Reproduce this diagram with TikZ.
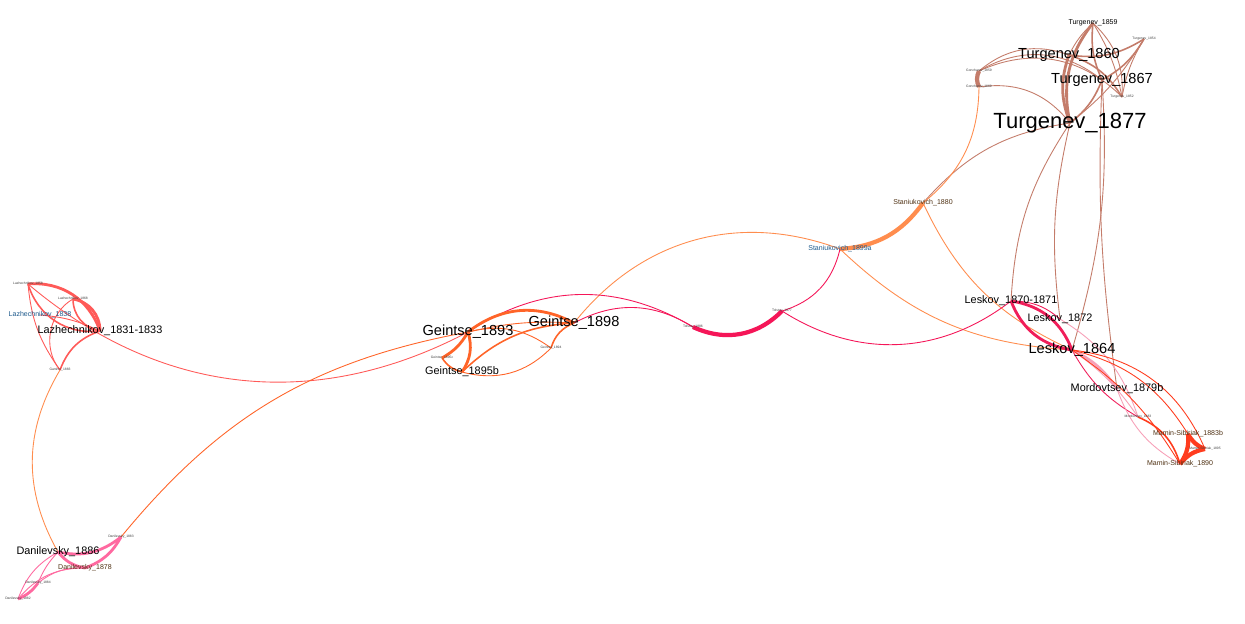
\documentclass[tikz,border=0pt]{standalone}
\usepackage{fontspec}
\setmainfont{Liberation Sans}
\usetikzlibrary{backgrounds}

\definecolor{turg}{RGB}{196,124,106}
\definecolor{stan}{RGB}{255,141,78}
\definecolor{gein}{RGB}{255,100,40}
\definecolor{lazh}{RGB}{255,90,88}
\definecolor{dani}{RGB}{255,105,160}
\definecolor{tols}{RGB}{245,22,88}
\definecolor{lesk}{RGB}{240,30,90}
\definecolor{mord}{RGB}{247,160,184}
\definecolor{mami}{RGB}{255,60,30}
\definecolor{bluetxt}{RGB}{30,90,140}
\definecolor{browntxt}{RGB}{80,50,20}

\begin{document}
\begin{tikzpicture}[x=0.02cm,y=-0.02cm,
  lbl/.style={inner sep=0pt,text=black},
  lbig/.style={lbl,font=\fontsize{12.5}{13}\selectfont},
  lmid/.style={lbl,font=\fontsize{8.3}{9}\selectfont},
  lsml/.style={lbl,font=\fontsize{6.2}{7}\selectfont},
  lxs/.style={lbl,font=\fontsize{4}{5}\selectfont},
  lmini/.style={lbl,font=\fontsize{1.9}{2}\selectfont,text=black!75},
  e1/.style={line width=0.5pt},
  e2/.style={line width=0.9pt},
  e3/.style={line width=1.6pt},
  e4/.style={line width=2.4pt}]
  \useasboundingbox (0,0) rectangle (1245,623);

  % Turgenev
  \node[lxs] (t1859) at (1093,23) {Turgenev\_1859};
  \node[lmini] (t1854) at (1144,39) {Turgenev\_1854};
  \node[lmid] (t1860) at (1069,55) {Turgenev\_1860};
  \node[lmid] (t1867) at (1102,80) {Turgenev\_1867};
  \node[lmini] (t1852) at (1122,97) {Turgenev\_1852};
  \node[lbig] (t1877) at (1070,123) {Turgenev\_1877};
  \node[lmini] (gon1859) at (979,71) {Goncharov\_1859};
  \node[lmini] (gon1869) at (979,87) {Goncharov\_1869};

  % Staniukovich, Tolstoy
  \node[lxs,text=browntxt] (stan1880) at (923,203) {Staniukovich\_1880};
  \node[lxs,text=bluetxt] (stan1899a) at (840,249) {Staniukovich\_1899a};
  \node[lmini] (tl1877) at (782,311) {Tolstoy\_1877};
  \node[lmini] (tl1886) at (693,327) {Tolstoy\_1886};

  % Leskov, Mordovtsev, Mamin-Sibiriak
  \node[lsml] (lesk1870) at (1011,301) {Leskov\_1870-1871};
  \node[lsml] (lesk1872) at (1060,319) {Leskov\_1872};
  \node[lmid] (lesk1864) at (1072,350) {Leskov\_1864};
  \node[lsml] (mord1879b) at (1117,389) {Mordovtsev\_1879b};
  \node[lmini] (mord1883) at (1138,417) {Mordovtsev\_1883};
  \node[lxs,text=browntxt] (mam1883b) at (1188,434) {Mamin-Sibiriak\_1883b};
  \node[lmini] (mam1895) at (1205,449) {Mamin-Sibiriak\_1895};
  \node[lxs,text=browntxt] (mam1890) at (1180,464) {Mamin-Sibiriak\_1890};

  % Geintse
  \node[lmid] (gei1893) at (468,332) {Geintse\_1893};
  \node[lmid] (gei1898) at (574,323) {Geintse\_1898};
  \node[lsml] (gei1895b) at (462,372) {Geintse\_1895b};
  \node[lmini] (gei1895c) at (442,358) {Geintse\_1895c};
  \node[lmini] (gei1894) at (551,348) {Geintse\_1894};

  % Lazhechnikov
  \node[lsml] (lz1831) at (100,331) {Lazhechnikov\_1831-1833};
  \node[lxs,text=bluetxt] (lz1838) at (40,315) {Lazhechnikov\_1838};
  \node[lmini] (lz1858) at (28,284) {Lazhechnikov\_1858};
  \node[lmini] (lz1868) at (73,299) {Lazhechnikov\_1868};
  \node[lmini] (gar1883) at (60,370) {Garshin\_1883};

  % Danilevsky
  \node[lsml] (dn1886) at (58,552) {Danilevsky\_1886};
  \node[lxs,text=browntxt] (dn1878) at (85,568) {Danilevsky\_1878};
  \node[lmini] (dn1883) at (121,537) {Danilevsky\_1883};
  \node[lmini] (dn1884) at (38,583) {Danilevsky\_1884};
  \node[lmini] (dn1882) at (18,599) {Danilevsky\_1882};

  \begin{scope}[on background layer]
    \fill[white] (0,0) rectangle (1245,623);
    % Turgenev group
    \draw[turg,e3] (t1859.center) to[bend right=25] (t1877.center);
    \draw[turg,e1] (t1859.center) to[bend left=10] (t1852.center);
    \draw[turg,e1] (t1859.center) to[bend left=25] (t1852.center);
    \draw[turg,e2] (t1859.center) to[bend right=15] (t1867.center);
    \draw[turg,e1] (t1859.center) to[bend right=10] (t1860.center);
    \draw[turg,e2] (t1854.center) to[bend left=20] (t1860.center);
    \draw[turg,e2] (t1854.center) to[bend left=15] (t1867.center);
    \draw[turg,e1] (t1854.center) to[bend left=10] (t1877.center);
    \draw[turg,e1] (t1854.center) to[bend right=10] (t1852.center);
    \draw[turg,e4] (gon1859.center) to[bend right=25] (gon1869.center);
    \draw[turg,e1] (gon1859.center) to[bend left=30] (t1860.center);
    \draw[turg,e1] (gon1859.center) to[bend left=35] (t1867.center);
    \draw[turg,e1] (gon1859.center) to[bend left=35] (t1852.center);
    \draw[turg,e1] (gon1869.center) to[bend left=30] (t1877.center);
    \draw[turg,e3] (t1860.center) to[bend right=20] (t1877.center);
    \draw[turg,e2] (t1860.center) to[bend left=20] (t1852.center);
    \draw[turg,e2] (t1867.center) to[bend left=15] (t1877.center);
    \draw[turg,e1] (t1877.center) to[bend right=20] (stan1880.center);
    \draw[turg,e1] (t1877.center) to[bend right=15] (lesk1870.center);
    \draw[turg,e1] (t1877.center) to[bend right=10] (lesk1872.center);
    \draw[turg,e1] (t1867.center) to[bend left=10] (lesk1864.center);
    \draw[turg,e1] (t1867.center) to[bend right=5] (mord1879b.center);
    % Staniukovich and Tolstoy
    \draw[stan,e1] (gon1869.center) to[bend left=25] (stan1880.center);
    \draw[stan,e4] (stan1899a.center) to[bend right=25] (stan1880.center);
    \draw[stan,e1] (stan1899a.center) to[bend right=36] (gei1898.center);
    \draw[stan,e1] (stan1880.center) to[bend right=20] (lesk1864.center);
    \draw[stan,e1] (stan1899a.center) to[bend right=20] (lesk1864.center);
    \draw[tols,e1] (tl1877.center) to[bend right=30] (stan1899a.center);
    \draw[tols,e4] (tl1886.center) to[bend right=35] (tl1877.center);
    \draw[tols,e1] (tl1877.center) to[bend right=35] (lesk1870.center);
    \draw[tols,e1] (tl1886.center) to[bend right=32] (gei1893.center);
    \draw[tols,e1] (tl1886.center) to[bend right=30] (gei1898.center);
    % Geintse
    \draw[gein,e3] (gei1893.center) to[bend left=33] (gei1898.center);
    \draw[gein,e1] (gei1893.center) to[bend left=8] (gei1898.center);
    \draw[gein,e3] (gei1893.center) to[bend left=25] (gei1895b.center);
    \draw[gein,e3] (gei1893.center) to[bend left=15] (gei1895c.center);
    \draw[gein,e2] (gei1895c.center) to[bend right=20] (gei1895b.center);
    \draw[gein,e2] (gei1895b.center) to[bend left=20] (gei1898.center);
    \draw[gein,e1] (gei1895b.center) to[bend right=30] (gei1894.center);
    \draw[gein,e2] (gei1898.center) to[bend right=25] (gei1894.center);
    \draw[gein,e1] (gei1893.center) to[bend left=25] (gei1894.center);
    % long links
    \draw[lazh,e1] (lz1858.center) to[bend right=34] (gei1893.center);
    \draw[gein,e1] (gei1893.center) to[bend right=20] (dn1883.center);
    \draw[stan,e1] (gar1883.center) to[bend right=30] (dn1886.center);
    % Lazhechnikov
    \draw[lazh,e3] (lz1858.center) to[bend left=38] (lz1831.center);
    \draw[lazh,e2] (lz1831.center) to[bend left=40] (lz1858.center);
    \draw[lazh,e3] (lz1868.center) to[bend left=40] (lz1831.center);
    \draw[lazh,e2] (lz1831.center) to[bend left=40] (lz1868.center);
    \draw[lazh,e2] (lz1831.center) to[bend right=25] (gar1883.center);
    \draw[lazh,e1] (lz1858.center) to[bend right=15] (gar1883.center);
    \draw[lazh,e1] (lz1868.center) to[bend right=50] (gar1883.center);
    \draw[lazh,e1] (lz1838.center) to[bend left=10] (lz1831.center);
    % Danilevsky
    \draw[dani,e3] (dn1886.center) to[bend right=25] (dn1883.center);
    \draw[dani,e3] (dn1878.center) to[bend right=20] (dn1883.center);
    \draw[dani,e3] (dn1886.center) to[bend right=20] (dn1878.center);
    \draw[dani,e1] (dn1886.center) to[bend right=20] (dn1882.center);
    \draw[dani,e1] (dn1886.center) to[bend right=10] (dn1884.center);
    \draw[dani,e1] (dn1878.center) to[bend right=20] (dn1884.center);
    \draw[dani,e1] (dn1878.center) to[bend right=25] (dn1882.center);
    \draw[dani,e3] (dn1884.center) to[bend left=15] (dn1882.center);
    % Leskov, Mordovtsev, Mamin-Sibiriak
    \draw[lesk,e3] (lesk1870.center) to[bend right=30] (lesk1864.center);
    \draw[lesk,e3] (lesk1870.center) to[bend left=30] (lesk1864.center);
    \draw[lesk,e1] (lesk1870.center) to[bend left=20] (lesk1872.center);
    \draw[lesk,e1] (lesk1864.center) to[bend right=15] (mord1883.center);
    \draw[mord,e3] (lesk1864.center) to[bend left=15] (mord1879b.center);
    \draw[mord,e1] (lesk1872.center) to[bend left=20] (mord1883.center);
    \draw[mord,e1] (lesk1864.center) to[bend left=10] (mord1883.center);
    \draw[mami,e1] (lesk1864.center) to[bend left=30] (mam1895.center);
    \draw[mami,e1] (lesk1864.center) to[bend left=22] (mam1883b.center);
    \draw[mami,e1] (lesk1864.center) to[bend left=12] (mam1890.center);
    \draw[mami,e2] (mord1883.center) to[bend left=25] (mam1890.center);
    \draw[mord,e1] (mord1879b.center) to[bend right=20] (mam1890.center);
    \draw[mami,e4] (mam1883b.center) to[bend right=20] (mam1895.center);
    \draw[mami,e4] (mam1895.center) to[bend right=20] (mam1890.center);
    \draw[mami,e4] (mam1890.center) to[bend right=20] (mam1883b.center);
  \end{scope}
\end{tikzpicture}
\end{document}
